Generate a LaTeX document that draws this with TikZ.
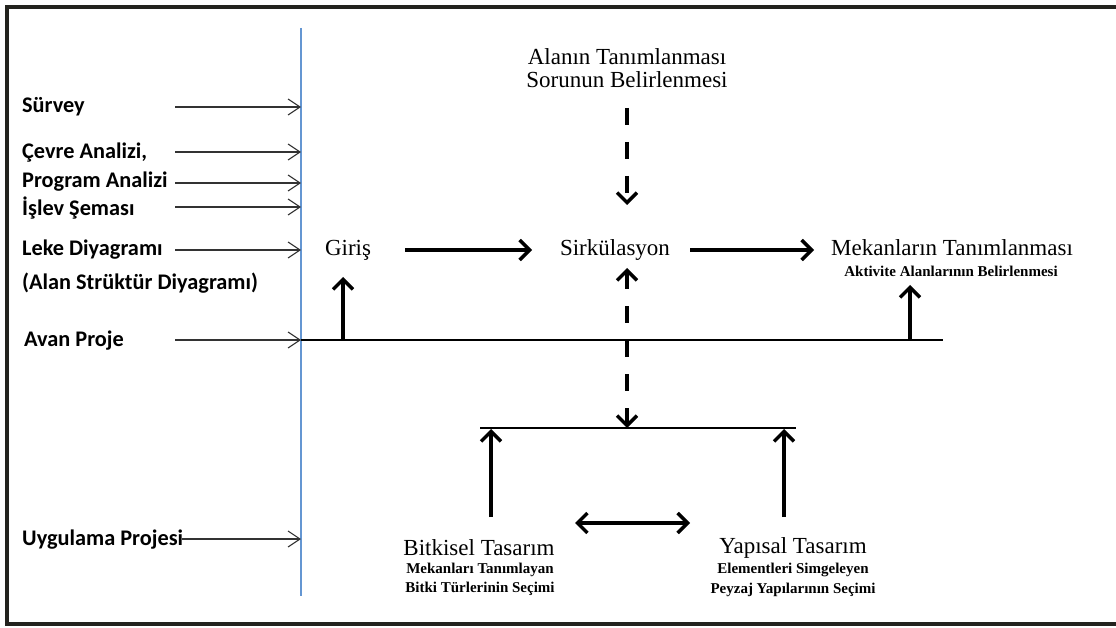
\documentclass[tikz,border=0pt]{standalone}
\usepackage{fontspec}
\setmainfont{Liberation Serif}
\newfontfamily\labelfont{Carlito}
\usetikzlibrary{arrows.meta}

\definecolor{bluebar}{RGB}{100,150,210}
\definecolor{framecol}{RGB}{35,35,30}

\tikzset{
  leftlbl/.style={anchor=west, inner sep=0pt, font=\labelfont\bfseries\fontsize{22.3}{25}\selectfont},
  mainlbl/.style={inner sep=0pt, font=\fontsize{23}{27}\selectfont},
  sublbl/.style={inner sep=0pt, font=\bfseries\fontsize{15}{17}\selectfont},
  thinarrow/.style={draw=black!80, line width=1.1pt, -{Straight Barb[length=12pt,width=16pt]}},
  thickarrow/.style={line width=3.4pt, -{Straight Barb[length=10pt,width=20pt]}},
  dasharrow/.style={thickarrow, dash pattern=on 17pt off 17pt},
}

\begin{document}
\begin{tikzpicture}[x=1pt,y=-1pt]
\useasboundingbox (0,0) rectangle (1116,628);

% Frame
\draw[framecol, line width=4pt] (1120,7) -- (7,7) -- (7,624) -- (1120,624);

% Blue line
\coordinate (bartop) at (301,28);
\coordinate (barbot) at (301,596);
\draw[bluebar, line width=1.5pt] (bartop) -- (barbot);

% Text Node (left column)
\node[leftlbl] (survey) at (22,107) {Sürvey};
\node[leftlbl] (cevre) at (22,153) {Çevre Analizi,};
\node[leftlbl] (program) at (22,182) {Program Analizi};
\node[leftlbl] (islev) at (22,208) {İşlev Şeması};
\node[leftlbl] (leke) at (22,250) {Leke Diyagramı};
\node[leftlbl] (alanstr) at (22,283) {(Alan Strüktür Diyagramı)};
\node[leftlbl] (avan) at (24,341) {Avan Proje};
\node[leftlbl] (uygulama) at (22,540) {Uygulama Projesi};

%Straight Lines (into the blue line)
\foreach \n/\y in {sv/107, cv/152, pa/183, is/207, lk/250, av/340} {
  \coordinate (\n-s) at (175,\y);
  \coordinate (\n-e) at (301,\y);
  \draw[thinarrow] (\n-s) -- (\n-e);
}
\coordinate (uy-s) at (182,539);
\coordinate (uy-e) at (301,539);
\draw[thinarrow] (uy-s) -- (uy-e);

% Avan line
\coordinate (avanend) at (943,340);
\draw[line width=1.1pt] (av-e) -- (avanend);

% Text Node (middle)
\node[mainlbl] (alan) at (627,57) {Alanın Tanımlanması};
\node[mainlbl] (sorun) at (627,80) {Sorunun Belirlenmesi};
\node[mainlbl] (giris) at (348,250) {Giriş};
\node[mainlbl] (sirk) at (615,250) {Sirkülasyon};
\node[mainlbl] (mekan) at (952,248) {Mekanların Tanımlanması};
\node[sublbl] (aktivite) at (951,271) {Aktivite Alanlarının Belirlenmesi};

% Arrows along the row
\coordinate (g-out) at (405,250);
\coordinate (s-in) at (532,250);
\coordinate (s-out) at (690,250);
\coordinate (m-in) at (814,250);
\draw[thickarrow] (g-out) -- (s-in);
\draw[thickarrow] (s-out) -- (m-in);

% Up arrows from Avan line
\coordinate (g-base) at (343,340);
\coordinate (g-tip) at (343,277);
\coordinate (m-base) at (910,340);
\coordinate (m-tip) at (910,285);
\draw[thickarrow] (g-base) -- (g-tip);
\draw[thickarrow] (m-base) -- (m-tip);

% Dashed arrows
\coordinate (d1-s) at (627,108);
\coordinate (d1-e) at (627,205);
\draw[dasharrow] (d1-s) -- (d1-e);
\coordinate (d2-s) at (627,268);
\coordinate (d2-e) at (627,428);
\draw[dasharrow, {Straight Barb[length=10pt,width=20pt]}-{Straight Barb[length=10pt,width=20pt]}] (d2-s) -- (d2-e);

% Bottom bar
\coordinate (bar-l) at (480,428);
\coordinate (bar-r) at (796,428);
\draw[line width=1.1pt] (bar-l) -- (bar-r);

% Text Node (bottom)
\node[mainlbl] (bitkisel) at (479,548) {Bitkisel Tasarım};
\node[sublbl] (bitki1) at (480,570) {Mekanları Tanımlayan};
\node[sublbl] (bitki2) at (480,589) {Bitki Türlerinin Seçimi};
\node[mainlbl] (yapisal) at (793,548) {Yapısal Tasarım};
\node[sublbl] (yapi1) at (793,570) {Elementleri Simgeleyen};
\node[sublbl] (yapi2) at (793,590) {Peyzaj Yapılarının Seçimi};

% Up arrows to bottom bar
\coordinate (b-base) at (491,517);
\coordinate (b-tip) at (491,429);
\coordinate (y-base) at (784,517);
\coordinate (y-tip) at (784,429);
\draw[thickarrow] (b-base) -- (b-tip);
\draw[thickarrow] (y-base) -- (y-tip);

% Double arrow
\coordinate (lr-l) at (575,523);
\coordinate (lr-r) at (690,523);
\draw[thickarrow, {Straight Barb[length=10pt,width=20pt]}-{Straight Barb[length=10pt,width=20pt]}] (lr-l) -- (lr-r);

\end{tikzpicture}
\end{document}
